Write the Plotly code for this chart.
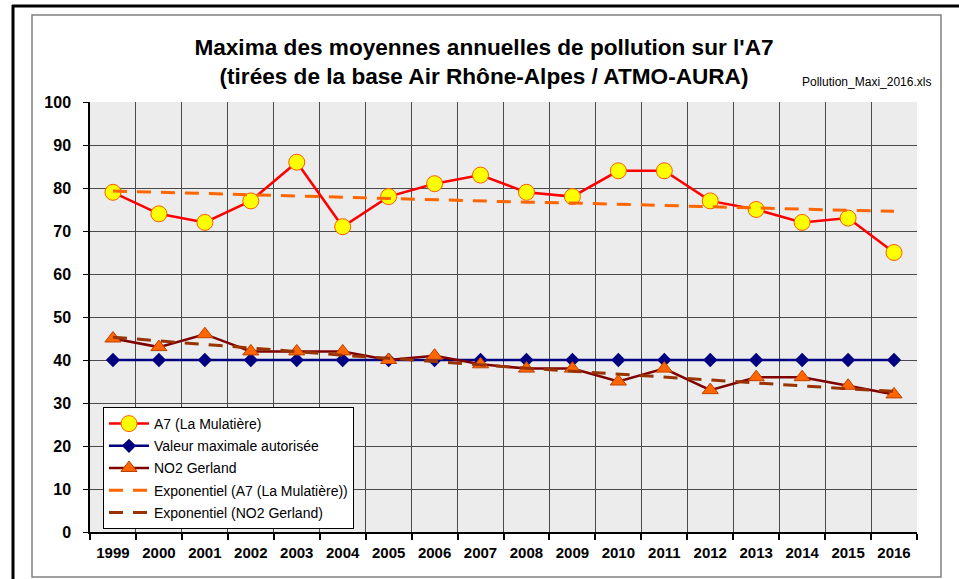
import plotly.graph_objects as go

years = ["1999", "2000", "2001", "2002", "2003", "2004", "2005", "2006", "2007",
         "2008", "2009", "2010", "2011", "2012", "2013", "2014", "2015", "2016"]
a7 = [79, 74, 72, 77, 86, 71, 78, 81, 83, 79, 78, 84, 84, 77, 75, 72, 73, 65]
limit = [40] * 18
no2 = [45, 43, 46, 42, 42, 42, 40, 41, 39, 38, 38, 35, 38, 33, 36, 36, 34, 32]
trend_a7 = [79.3, 79.0, 78.7, 78.4, 78.2, 77.9, 77.6, 77.3, 77.0, 76.7, 76.5,
            76.2, 75.9, 75.6, 75.4, 75.1, 74.8, 74.6]
trend_no2 = [45.3, 44.4, 43.6, 42.8, 41.9, 41.1, 40.4, 39.6, 38.8, 38.1, 37.4,
             36.7, 36.0, 35.3, 34.6, 33.9, 33.3, 32.7]

FONT = "Liberation Sans, Arial, sans-serif"

fig = go.Figure()
fig.add_trace(go.Scatter(
    x=years, y=a7, name="A7 (La Mulatière)", mode="lines+markers",
    line=dict(color="#FF0000", width=2.5),
    marker=dict(symbol="circle", size=16, color="#FFFF00",
                line=dict(color="#FF5A00", width=1)),
    legendgroup="g1"))
fig.add_trace(go.Scatter(
    x=years, y=limit, name="Valeur maximale autorisée", mode="lines+markers",
    line=dict(color="#000080", width=2.5),
    marker=dict(symbol="diamond", size=11, color="#000080"),
    legendgroup="g2"))
fig.add_trace(go.Scatter(
    x=years, y=no2, name="NO2 Gerland", mode="lines+markers",
    line=dict(color="#800000", width=2.5),
    marker=dict(symbol="triangle-up", size=14, color="#FF6600",
                line=dict(color="#C04000", width=1)),
    legendgroup="g3"))
fig.add_trace(go.Scatter(
    x=years, y=trend_a7, name="Exponentiel (A7 (La Mulatière))", mode="lines",
    line=dict(color="#FF6600", width=3, dash="14px,10px"),
    legendgroup="g4"))
fig.add_trace(go.Scatter(
    x=years, y=trend_no2, name="Exponentiel (NO2 Gerland)", mode="lines",
    line=dict(color="#993300", width=3, dash="14px,10px"),
    legendgroup="g5"))

L, R, T, B = 90, 42, 102, 47
W, H = 959, 579
pw, ph = W - L - R, H - T - B

def px(x):
    return (x - L) / pw

def py(y):
    return (H - B - y) / ph

fig.update_layout(
    width=W, height=H,
    margin=dict(l=L, r=R, t=T, b=B),
    paper_bgcolor="white",
    plot_bgcolor="#ECECEC",
    font=dict(family=FONT, color="black"),
    title=dict(
        text="Maxima des moyennes annuelles de pollution sur l'A7<br>(tirées de la base Air Rhône-Alpes / ATMO-AURA)",
        font=dict(family=FONT, size=22.6, color="black", weight="bold"),
        x=484 / W, xanchor="center", y=1 - 55 / H, yanchor="middle",
        xref="container", yref="container"),
    xaxis=dict(
        type="category", tickson="boundaries", showgrid=True,
        gridcolor="#4a4a4a", gridwidth=1,
        ticks="outside", ticklen=6, tickcolor="black", tickwidth=1.5,
        showline=True, linecolor="black", linewidth=2,
        tickfont=dict(family=FONT, size=15, color="black", weight="bold"),
        ticklabelstandoff=6,
        range=[-0.5, 17.5], fixedrange=True),
    yaxis=dict(
        range=[0, 100], dtick=10, showgrid=True,
        gridcolor="#4a4a4a", gridwidth=1,
        ticks="outside", ticklen=5, tickcolor="black",
        showline=True, linecolor="black", linewidth=1.5,
        zeroline=False,
        tickfont=dict(family=FONT, size=16, color="black", weight="bold"),
        ticklabelstandoff=9),
    legend=dict(
        x=px(103), y=py(407), xanchor="left", yanchor="top",
        bgcolor="white", bordercolor="black", borderwidth=1,
        font=dict(family=FONT, size=14, color="black"),
        tracegroupgap=1, itemwidth=40),
    showlegend=True,
)

fig.add_annotation(
    text="Pollution_Maxi_2016.xls", xref="paper", yref="paper",
    x=px(933), y=py(82), xanchor="right", yanchor="middle",
    showarrow=False, font=dict(family=FONT, size=12, color="black"))

# chart frame (grey) and outer black border
fig.add_shape(type="rect", xref="paper", yref="paper",
              x0=px(32), x1=px(941), y0=py(577), y1=py(15),
              line=dict(color="#808080", width=1.5), layer="below")
fig.add_shape(type="line", xref="paper", yref="paper",
              x0=px(13), x1=px(13), y0=py(579), y1=py(5),
              line=dict(color="black", width=3))
fig.add_shape(type="line", xref="paper", yref="paper",
              x0=px(12), x1=px(959), y0=py(6), y1=py(6),
              line=dict(color="black", width=3))

fig.write_html(
    "out.html",
    config={"displayModeBar": False},
    post_script="document.body.style.margin='0';document.body.style.overflow='hidden';")
